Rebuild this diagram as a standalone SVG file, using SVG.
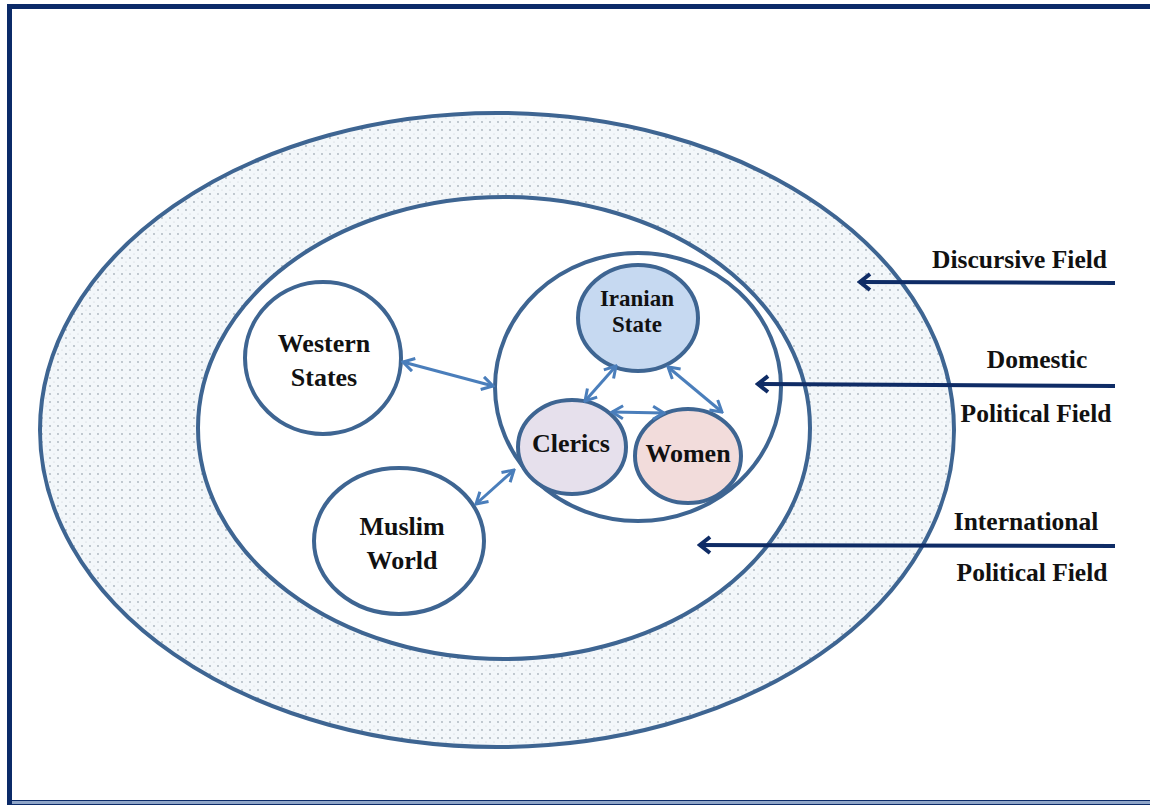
<svg xmlns="http://www.w3.org/2000/svg" width="1150" height="805" viewBox="0 0 1150 805">
<style>
.node{stroke:#3e6592;stroke-width:4}
.t{font-family:"Liberation Serif","Times New Roman",serif;font-weight:bold;fill:#111;text-anchor:middle}
.lbl{font-family:"Liberation Serif","Times New Roman",serif;font-weight:bold;fill:#111;font-size:25.5px}
.rel{fill:none;stroke:#4a7ebb;stroke-width:3;marker-start:url(#ah);marker-end:url(#ah)}
.ptr{fill:none;stroke:#0f2c66;stroke-width:4;marker-end:url(#bh)}
</style>
<defs>
<pattern id="dots" width="8" height="8" patternUnits="userSpaceOnUse">
<rect width="8" height="8" fill="#f3f7fa"/>
<circle cx="2" cy="2" r="0.9" fill="#a9b3bc"/>
<circle cx="6" cy="6" r="0.6" fill="#c3cad1"/>
</pattern>
<marker id="ah" viewBox="0 0 16 16" refX="14" refY="8" markerWidth="16" markerHeight="16" markerUnits="userSpaceOnUse" orient="auto-start-reverse">
<path d="M3,1.5 L14,8 L3,14.5" fill="none" stroke="#4a7ebb" stroke-width="3"/>
</marker>
<marker id="bh" viewBox="0 0 16 20" refX="14" refY="10" markerWidth="16" markerHeight="20" markerUnits="userSpaceOnUse" orient="auto">
<path d="M3,2 L13,10 L3,18" fill="none" stroke="#0f2c66" stroke-width="4"/>
</marker>
</defs>
<rect x="0" y="0" width="1150" height="805" fill="#fff"/>
<path d="M1160,6.5 H9.5 V802.5 H1160" fill="none" stroke="#0b2a68" stroke-width="5"/>
<path d="M12,802.5 H1160" fill="none" stroke="#8fa5c8" stroke-width="3"/>

<g id="discursive-field">
<ellipse cx="497" cy="430" rx="457" ry="317" fill="url(#dots)" stroke="#3e6592" stroke-width="4"/>
</g>
<g id="international-field">
<ellipse cx="504" cy="428" rx="306" ry="231" fill="#fff" stroke="#3e6592" stroke-width="4"/>
</g>
<g id="domestic-field">
<ellipse cx="638" cy="387" rx="143" ry="134" fill="#fff" stroke="#3e6592" stroke-width="4"/>
</g>
<g id="iranian-state">
<ellipse class="node" cx="638" cy="318" rx="60" ry="53" fill="#c6d9f1"/>
<text class="t" font-size="23" x="637" y="306">Iranian</text>
<text class="t" font-size="23" x="637" y="332">State</text>
</g>
<g id="clerics">
<ellipse class="node" cx="572" cy="447" rx="54" ry="47" fill="#e6e0ec"/>
<text class="t" font-size="26" x="571" y="452">Clerics</text>
</g>
<g id="women">
<ellipse class="node" cx="688" cy="456" rx="53" ry="47" fill="#f2dcdb"/>
<text class="t" font-size="26" x="688" y="462">Women</text>
</g>
<g id="western-states">
<ellipse class="node" cx="323" cy="358" rx="78" ry="76" fill="#fff"/>
<text class="t" font-size="26" x="324" y="352">Western</text>
<text class="t" font-size="26" x="324" y="386">States</text>
</g>
<g id="muslim-world">
<ellipse class="node" cx="399" cy="541" rx="85" ry="73" fill="#fff"/>
<text class="t" font-size="26" x="402" y="535">Muslim</text>
<text class="t" font-size="26" x="402" y="569">World</text>
</g>

<g id="connectors">
<line class="rel" x1="403" y1="362" x2="493" y2="386"/>
<line class="rel" x1="476" y1="504" x2="514" y2="470"/>
<line class="rel" x1="585" y1="401" x2="616" y2="366"/>
<line class="rel" x1="668" y1="367" x2="722" y2="412"/>
<line class="rel" x1="612" y1="412" x2="664" y2="413"/>
<line class="ptr" x1="1115" y1="283" x2="859" y2="282"/>
<line class="ptr" x1="1115" y1="386" x2="757" y2="384"/>
<line class="ptr" x1="1115" y1="546" x2="699" y2="545"/>
</g>

<g id="labels">
<text class="lbl" x="1107" y="268" text-anchor="end">Discursive Field</text>
<text class="lbl" x="1037" y="368" text-anchor="middle">Domestic</text>
<text class="lbl" x="1036" y="422" text-anchor="middle">Political Field</text>
<text class="lbl" x="1026" y="530" text-anchor="middle">International</text>
<text class="lbl" x="1032" y="581" text-anchor="middle">Political Field</text>
</g>
</svg>
